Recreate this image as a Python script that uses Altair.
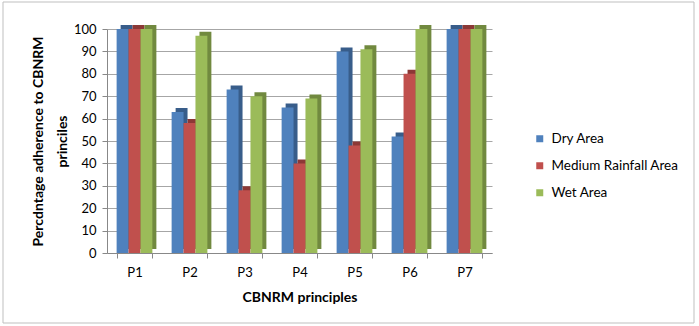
import altair as alt
import pandas as pd

principles = ["P1", "P2", "P3", "P4", "P5", "P6", "P7"]
series = ["Dry Area", "Medium Rainfall Area", "Wet Area"]
dry = [100, 63, 73, 65, 90, 52, 100]
medium = [100, 58, 28, 40, 48, 80, 100]
wet = [100, 97, 70, 69, 91, 100, 100]
y_ticks = [0, 10, 20, 30, 40, 50, 60, 70, 80, 90, 100]

front_colors = ["#4F81BD", "#C0504D", "#9BBB59"]
side_colors = ["#385D8A", "#8C3836", "#71893F"]

rows = []
for i, p in enumerate(principles):
    for s, vals in zip(series, [dry, medium, wet]):
        rows.append({"principle": p, "area": s, "value": vals[i]})
df = pd.DataFrame(rows)

FONT = "Lato"
W, H = 385, 224
STEP = W / 7.0
BW = STEP * 0.65
D = 4

x_enc = alt.X("principle:N", sort=principles,
              scale=alt.Scale(paddingInner=0.35, paddingOuter=0.175),
              axis=alt.Axis(title="CBNRM principles", labelAngle=0, tickBand="extent",
                            domainColor="#888888", tickColor="#888888", tickSize=5,
                            labelPadding=8, labelFontSize=13, labelColor="#000000",
                            titleFontSize=14, titleFontWeight="bold", titlePadding=11,
                            titleColor="#000000", grid=False))
y_enc = alt.Y("value:Q", scale=alt.Scale(domain=[0, 100], nice=False),
              axis=alt.Axis(title=["Percdntage adherence to CBNRM", "princiles"],
                            values=y_ticks, domainColor="#888888", tickColor="#888888",
                            tickSize=5, labelFontSize=13, labelColor="#000000",
                            labelPadding=6, titleFontSize=14, titleFontWeight="bold",
                            titleColor="#000000", titlePadding=4, titleLineHeight=24,
                            gridColor="#A6A6A6", gridWidth=1))

side = alt.Chart(df).mark_bar(yOffset=-D, clip=False).encode(
    x=x_enc, y=y_enc,
    xOffset=alt.XOffset("area:N", sort=series,
                        scale=alt.Scale(paddingInner=0, range=[D, BW + D])),
    color=alt.Color("area:N", sort=series, scale=alt.Scale(domain=series, range=side_colors),
                    legend=None),
)

front = alt.Chart(df).mark_bar().encode(
    x=x_enc, y=y_enc,
    xOffset=alt.XOffset("area:N", sort=series, scale=alt.Scale(paddingInner=0)),
    color=alt.Color("area:N", sort=series,
                    scale=alt.Scale(domain=series, range=front_colors),
                    legend=alt.Legend(title=None, orient="none", legendX=426, legendY=103,
                                      symbolType="square", symbolSize=49,
                                      symbolStrokeWidth=0, labelFontSize=13.5,
                                      labelColor="#000000", rowPadding=12,
                                      labelOffset=5)),
)

border = alt.Chart(pd.DataFrame({"a": [0]})).mark_rect(
    fill=None, stroke="#BFBFBF", strokeWidth=1, clip=False
).encode(x=alt.value(-104), x2=alt.value(587), y=alt.value(-27), y2=alt.value(294))

chart = alt.layer(border, side, front).resolve_scale(
    color="independent", xOffset="independent"
).properties(
    width=W, height=H,
    autosize=alt.AutoSizeParams(type="none"),
    padding={"left": 107, "top": 29, "right": 207, "bottom": 73},
).configure(font=FONT, background="#FFFFFF").configure_view(stroke=None)

chart.save("out.html", embed_options={"renderer": "svg", "actions": False})
